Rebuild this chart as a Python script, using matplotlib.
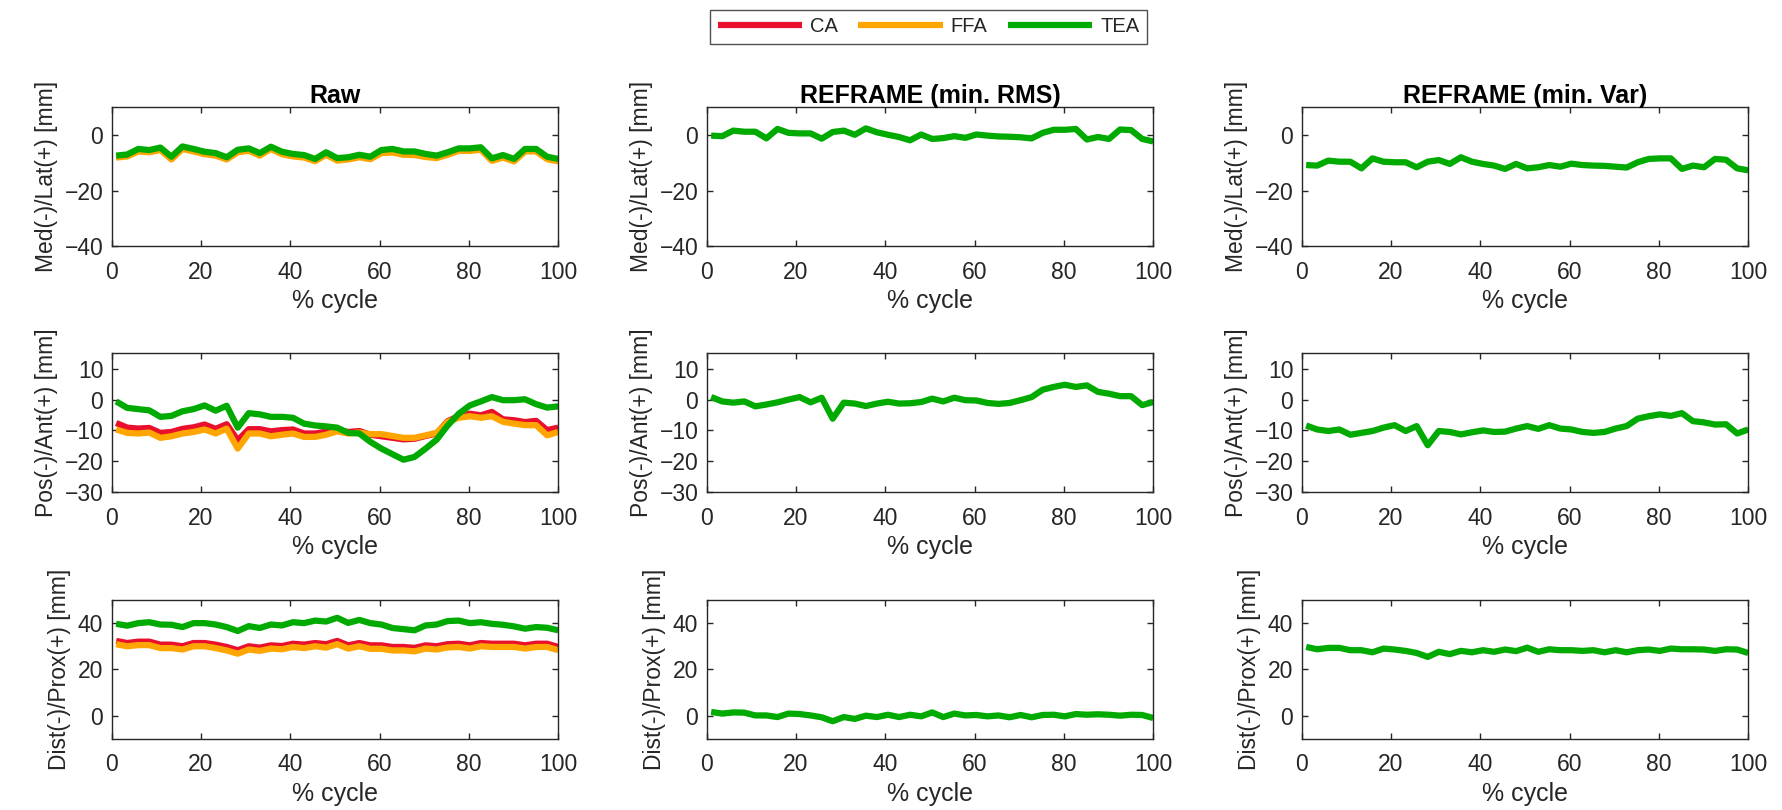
import numpy as np
import matplotlib.pyplot as plt

plt.rcParams.update({
    'font.family': ['Liberation Sans', 'DejaVu Sans'],
    'font.size': 16,
    'axes.edgecolor': '#262626',
    'axes.linewidth': 1.0,
    'xtick.color': '#262626',
    'ytick.color': '#262626',
    'text.color': '#262626',
    'axes.labelcolor': '#262626',
})

# % cycle sample points (41 samples from 1 to 100)
cycle = np.linspace(1, 100, 41)

series_names = ['CA', 'FFA', 'TEA']
colors = {'CA': '#E8102D', 'FFA': '#FFA500', 'TEA': '#00AA00'}

col_titles = ['Raw', 'REFRAME (min. RMS)', 'REFRAME (min. Var)']
row_labels = ['Med(-)/Lat(+) [mm]', 'Pos(-)/Ant(+) [mm]', 'Dist(-)/Prox(+) [mm]']
row_ylims = [(-40, 10), (-30, 15), (-10, 50)]
row_yticks = [[-40, -20, 0], [-30, -20, -10, 0, 10], [0, 20, 40]]

# ---- Medial/lateral ----
ml_raw_ca = [-7.8, -7.4, -5.5, -5.8, -5.0, -8.3, -4.6, -5.5, -6.5, -7.0, -8.4, -5.8, -5.3, -7.0,
             -4.6, -6.5, -7.3, -7.7, -9.0, -6.7, -8.8, -8.4, -7.6, -8.3, -5.9, -5.6, -6.5, -6.6,
             -7.4, -7.9, -6.7, -5.3, -5.3, -4.9, -8.9, -7.7, -9.1, -5.5, -5.5, -8.3, -9.1]
ml_raw_ffa = [-8.1, -7.7, -5.9, -6.2, -5.4, -8.8, -5.0, -5.9, -6.9, -7.4, -8.8, -6.2, -5.7, -7.4,
              -5.0, -6.9, -7.7, -8.1, -9.4, -7.1, -9.2, -8.8, -8.0, -8.7, -6.5, -6.3, -7.1, -7.2,
              -7.9, -8.3, -7.1, -5.7, -5.7, -5.3, -9.3, -8.1, -9.5, -5.9, -5.9, -8.7, -9.5]
ml_raw_tea = [-7.4, -7.0, -5.0, -5.4, -4.5, -7.8, -4.1, -5.0, -6.0, -6.5, -8.0, -5.3, -4.8, -6.5,
              -4.2, -6.0, -6.8, -7.2, -8.6, -6.2, -8.3, -8.0, -7.1, -7.8, -5.4, -5.0, -5.9, -5.9,
              -6.8, -7.4, -6.2, -4.8, -4.8, -4.4, -8.4, -7.2, -8.6, -5.0, -5.0, -7.8, -8.6]
ml_rms_tea = [-0.2, -0.4, 1.6, 1.2, 1.2, -1.2, 2.2, 0.8, 0.6, 0.6, -1.3, 1.1, 1.6, 0.1,
              2.4, 1.0, 0.1, -0.7, -1.9, 0.2, -1.4, -1.1, -0.4, -1.0, 0.2, -0.2, -0.5, -0.6,
              -0.8, -1.2, 0.8, 1.9, 1.9, 2.2, -1.6, -0.7, -1.4, 2.0, 1.8, -1.4, -2.3]
ml_var_tea = [-10.8, -11.0, -9.2, -9.6, -9.6, -12.0, -8.4, -9.6, -9.8, -9.8, -11.6, -9.6, -9.0, -10.4,
              -8.0, -9.6, -10.4, -11.0, -12.2, -10.4, -12.0, -11.6, -10.8, -11.4, -10.3, -10.8, -11.0, -11.1,
              -11.4, -11.7, -9.8, -8.6, -8.4, -8.4, -12.2, -11.0, -11.6, -8.6, -8.9, -12.0, -12.7]

# ---- Posterior/anterior ----
ap_raw_ca = [-7.6, -9.1, -9.4, -9.2, -10.8, -10.5, -9.5, -9.0, -8.1, -9.5, -8.0, -13.2, -9.6, -9.6,
             -10.3, -9.9, -9.7, -11.0, -11.0, -10.4, -9.9, -10.5, -10.2, -11.4, -11.9, -12.4, -12.9, -12.7,
             -11.8, -11.0, -7.0, -5.4, -4.6, -5.1, -4.0, -6.4, -6.7, -7.3, -6.9, -9.9, -9.1]
ap_raw_ffa = [-9.7, -10.8, -11.0, -10.7, -12.4, -11.9, -11.0, -10.5, -9.7, -11.0, -9.4, -15.9, -11.0, -11.0,
              -11.9, -11.4, -11.0, -12.1, -12.1, -11.4, -10.3, -11.0, -10.7, -11.2, -11.2, -11.8, -12.4, -12.4,
              -11.6, -10.8, -7.2, -5.9, -5.4, -5.9, -5.4, -7.2, -7.8, -8.3, -8.3, -11.6, -10.5]
ap_raw_tea = [-0.6, -2.7, -3.1, -3.5, -5.6, -5.3, -3.8, -3.1, -1.9, -3.6, -2.0, -9.1, -4.4, -4.8,
              -5.6, -5.6, -5.9, -7.8, -8.4, -8.7, -9.1, -10.8, -11.0, -13.7, -15.9, -17.7, -19.5, -18.6,
              -15.9, -13.0, -8.4, -4.6, -1.9, -0.6, 0.8, -0.2, -0.2, 0.1, -1.5, -2.6, -2.2]
ap_rms_tea = [0.8, -0.6, -1.0, -0.6, -2.2, -1.6, -0.9, 0.0, 0.8, -0.9, 0.6, -6.2, -1.0, -1.3,
              -2.1, -1.3, -0.7, -1.3, -1.2, -0.8, 0.3, -0.6, 0.6, -0.2, -0.3, -1.1, -1.4, -1.1,
              -0.2, 0.8, 3.2, 4.1, 4.8, 4.1, 4.6, 2.5, 1.9, 1.1, 1.1, -1.8, -0.8]
ap_var_tea = [-8.4, -9.7, -10.2, -9.7, -11.4, -10.8, -10.2, -9.1, -8.3, -10.2, -8.6, -14.8, -10.2, -10.5,
              -11.3, -10.6, -10.0, -10.5, -10.4, -9.4, -8.6, -9.5, -8.3, -9.4, -9.7, -10.5, -10.8, -10.5,
              -9.4, -8.6, -6.2, -5.4, -4.8, -5.3, -4.4, -7.0, -7.4, -8.1, -8.0, -11.0, -9.7]

# ---- Distal/proximal ----
pd_raw_ca = [32.3, 31.4, 32.0, 32.0, 30.7, 30.7, 30.0, 31.4, 31.4, 30.7, 29.7, 28.3, 30.0, 29.4,
             30.4, 30.1, 31.1, 30.7, 31.4, 30.9, 32.3, 30.4, 31.4, 30.4, 30.4, 29.7, 29.7, 29.3,
             30.4, 30.0, 30.9, 31.1, 30.4, 31.4, 31.1, 31.1, 31.1, 30.4, 31.1, 31.1, 29.7]
pd_raw_ffa = [30.9, 30.0, 30.5, 30.5, 29.2, 29.2, 28.6, 30.0, 30.0, 29.2, 28.2, 26.8, 28.6, 28.0,
              29.0, 28.7, 29.7, 29.2, 30.0, 29.4, 30.9, 29.0, 30.0, 28.9, 28.9, 28.2, 28.2, 27.8,
              29.0, 28.6, 29.5, 29.7, 29.0, 30.0, 29.7, 29.7, 29.7, 29.0, 29.7, 29.7, 28.3]
pd_raw_tea = [39.7, 38.9, 40.0, 40.4, 39.4, 39.3, 38.3, 40.0, 40.0, 39.4, 38.3, 36.6, 38.7, 37.9,
              39.4, 39.0, 40.4, 40.0, 41.1, 40.7, 42.3, 40.1, 41.4, 40.0, 39.4, 37.9, 37.4, 36.9,
              39.0, 39.4, 40.9, 41.1, 40.0, 40.4, 39.7, 39.3, 38.6, 37.6, 38.3, 38.0, 36.9]
pd_rms_tea = [1.6, 0.9, 1.4, 1.3, 0.1, 0.1, -0.6, 0.9, 0.7, 0.1, -0.7, -2.4, -0.6, -1.4,
              0.0, -0.6, 0.4, -0.6, 0.4, -0.3, 1.4, -0.6, 0.9, 0.1, 0.3, -0.3, 0.1, -0.7,
              0.3, -0.7, 0.3, 0.4, -0.3, 0.7, 0.4, 0.6, 0.4, 0.0, 0.4, 0.3, -1.0]
pd_var_tea = [29.7, 28.7, 29.3, 29.3, 28.3, 28.3, 27.4, 29.0, 28.6, 28.0, 27.1, 25.4, 27.6, 26.6,
              28.0, 27.4, 28.3, 27.6, 28.6, 27.9, 29.4, 27.6, 28.7, 28.3, 28.3, 28.0, 28.3, 27.4,
              28.3, 27.4, 28.3, 28.6, 28.0, 29.0, 28.7, 28.7, 28.6, 28.0, 28.7, 28.6, 27.1]

# panel data: rows (ML, AP, PD) x columns (Raw, RMS, Var)
panels = [
    [{'CA': ml_raw_ca, 'FFA': ml_raw_ffa, 'TEA': ml_raw_tea}, {'TEA': ml_rms_tea}, {'TEA': ml_var_tea}],
    [{'CA': ap_raw_ca, 'FFA': ap_raw_ffa, 'TEA': ap_raw_tea}, {'TEA': ap_rms_tea}, {'TEA': ap_var_tea}],
    [{'CA': pd_raw_ca, 'FFA': pd_raw_ffa, 'TEA': pd_raw_tea}, {'TEA': pd_rms_tea}, {'TEA': pd_var_tea}],
]

W, H = 1783, 810
fig = plt.figure(figsize=(W / 100, H / 100), dpi=100)

col_left = [111.7, 706.7, 1301.7]
col_width = 446.5
row_top = [107.3, 353.3, 600.0]
row_height = 138.8

handles = {}
for r in range(3):
    for c in range(3):
        ax = fig.add_axes([col_left[c] / W, 1 - (row_top[r] + row_height) / H,
                           col_width / W, row_height / H])
        for name in series_names:
            if name in panels[r][c]:
                ln, = ax.plot(cycle, panels[r][c][name], color=colors[name], lw=4.5,
                              solid_joinstyle='round', solid_capstyle='butt', label=name)
                handles[name] = ln
        ax.set_xlim(0, 100)
        ax.set_xticks([0, 20, 40, 60, 80, 100])
        ax.set_ylim(*row_ylims[r])
        ax.set_yticks(row_yticks[r])
        ax.tick_params(direction='in', length=4, width=1, top=True, right=True, labelsize=16.5)
        ax.tick_params(axis='x', pad=10.5)
        ax.tick_params(axis='y', pad=6)
        ax.set_xlabel('% cycle', fontsize=18, labelpad=4)
        ax.set_ylabel(row_labels[r], fontsize=16.5, labelpad=5)
        if r == 0:
            ax.set_title(col_titles[c], fontweight='bold', fontsize=18, pad=3, color='black')

leg = fig.legend([handles[n] for n in series_names], series_names, loc='center',
                 bbox_to_anchor=(928.5 / W, 1 - 27 / H), ncol=3, fontsize=14.5,
                 frameon=True, fancybox=False, edgecolor='#262626', handlelength=4.2,
                 handletextpad=0.4, columnspacing=1.0, borderpad=0.35)
leg.get_frame().set_linewidth(1.0)

fig.savefig('out.png', dpi=100)
